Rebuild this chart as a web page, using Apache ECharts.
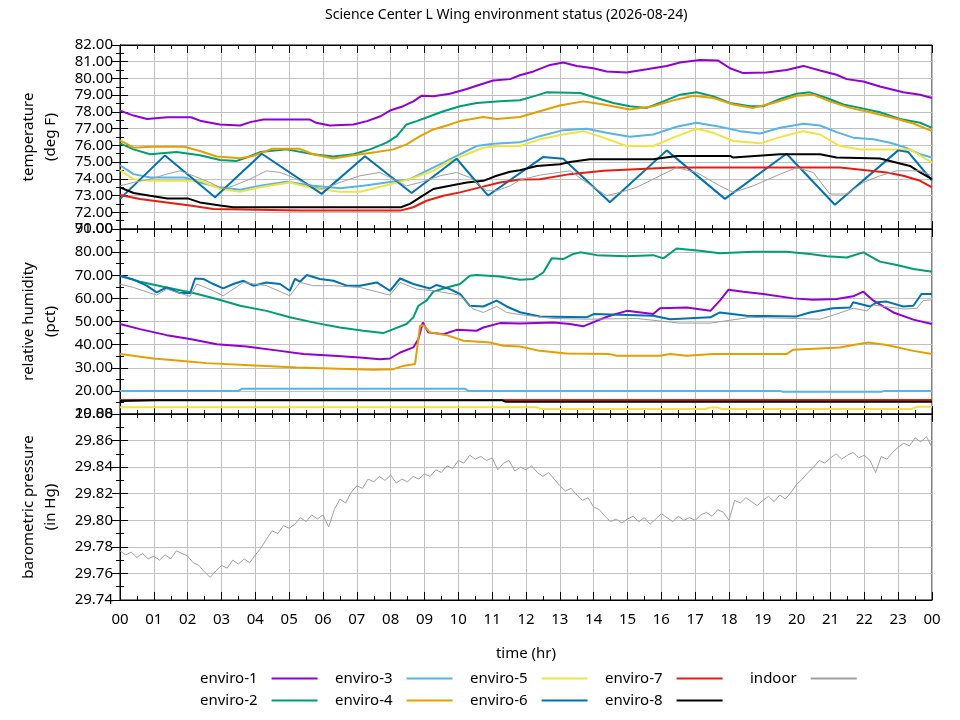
<!DOCTYPE html>
<html>
<head>
<meta charset="utf-8">
<title>Science Center L Wing environment status</title>
<script src="https://cdn.jsdelivr.net/npm/echarts@6/dist/echarts.min.js"></script>
<style>
  html, body { margin: 0; padding: 0; background: #fff; }
  #main { width: 960px; height: 720px; }
</style>
</head>
<body>
<div id="main"></div>
<script>
// series names and colours (gnuplot default palette)
var seriesNames = ['enviro-1', 'enviro-2', 'enviro-3', 'enviro-4', 'enviro-5', 'enviro-6', 'enviro-7', 'enviro-8', 'indoor'];
var seriesColors = ['#9400d3', '#009e73', '#56b4e9', '#e69f00', '#f0e442', '#0072b2', '#e51e10', '#000000', '#a0a0a0'];

// temperature (deg F), [hour, value]
var tempEnviro1 = [[0,78.08],[0.4,77.78],[0.8,77.58],[1.4,77.68],[2.1,77.68],[2.4,77.45],[2.95,77.25],[3.55,77.19],[3.85,77.39],[4.24,77.55],[5.6,77.55],[5.8,77.35],[6.2,77.19],[6.9,77.25],[7.3,77.45],[7.7,77.74],[7.98,78.08],[8.37,78.34],[8.67,78.63],[8.92,78.97],[9.26,78.93],[9.75,79.09],[10.25,79.37],[10.54,79.56],[11.03,79.88],[11.53,79.96],[11.82,80.19],[12.22,80.42],[12.71,80.81],[13.1,80.95],[13.5,80.75],[13.99,80.61],[14.38,80.42],[14.97,80.36],[15.57,80.55],[16.16,80.75],[16.55,80.95],[17.14,81.11],[17.68,81.07],[18.03,80.61],[18.42,80.32],[19.11,80.36],[19.7,80.51],[20.2,80.75],[20.69,80.48],[21.18,80.22],[21.48,79.96],[21.97,79.82],[22.46,79.52],[23.15,79.17],[23.65,79.03],[24,78.83]];
var tempEnviro2 = [[0,76.12],[0.4,75.76],[0.89,75.47],[1.67,75.6],[2.36,75.41],[2.96,75.13],[3.45,75.07],[3.74,75.27],[4.14,75.6],[4.93,75.76],[5.71,75.47],[6.3,75.33],[6.9,75.47],[7.39,75.76],[7.88,76.16],[8.18,76.55],[8.47,77.25],[8.77,77.45],[9.16,77.74],[9.56,78.04],[10.05,78.34],[10.54,78.53],[11.23,78.63],[11.82,78.7],[12.22,78.93],[12.61,79.17],[13.6,79.13],[14.09,78.83],[14.58,78.53],[15.07,78.34],[15.57,78.24],[16.06,78.63],[16.55,79.03],[17.04,79.17],[17.54,78.93],[18.03,78.53],[18.62,78.34],[19.01,78.34],[19.51,78.77],[20.0,79.09],[20.39,79.17],[20.89,78.83],[21.38,78.44],[21.87,78.24],[22.46,77.98],[23.05,77.58],[23.65,77.35],[24,77.05]];
var tempEnviro3 = [[0,74.81],[0.4,74.28],[0.9,74.08],[1.9,74.08],[2.36,73.78],[2.96,73.49],[3.55,73.35],[4.14,73.58],[4.93,73.82],[5.71,73.58],[6.5,73.43],[7.19,73.58],[7.88,73.78],[8.57,73.98],[9.06,74.48],[9.56,74.97],[10.05,75.47],[10.54,75.96],[11.03,76.1],[11.82,76.18],[12.41,76.55],[13.1,76.91],[13.79,76.99],[14.38,76.75],[15.07,76.51],[15.76,76.65],[16.45,77.11],[17.04,77.35],[17.73,77.11],[18.32,76.85],[18.92,76.71],[19.51,77.05],[20.2,77.29],[20.69,77.19],[21.18,76.79],[21.67,76.46],[22.27,76.36],[22.76,76.16],[23.15,75.92],[23.65,75.47],[24,75.27]];
var tempEnviro4 = [[0,76.3],[0.4,75.86],[0.9,75.92],[1.9,75.92],[2.36,75.66],[2.86,75.33],[3.55,75.23],[3.94,75.37],[4.5,75.8],[5.3,75.8],[5.71,75.47],[6.3,75.21],[6.9,75.41],[7.59,75.6],[8.08,75.76],[8.47,76.06],[8.87,76.55],[9.26,76.95],[9.66,77.19],[10.05,77.45],[10.74,77.7],[11.13,77.58],[11.82,77.7],[12.41,78.04],[13.0,78.38],[13.69,78.63],[14.29,78.44],[15.07,78.14],[15.76,78.34],[16.35,78.69],[16.95,78.97],[17.54,78.83],[18.13,78.44],[18.72,78.24],[19.31,78.53],[20.0,78.97],[20.49,79.03],[20.98,78.63],[21.58,78.24],[22.17,77.98],[22.86,77.64],[23.45,77.31],[24,76.85]];
var tempEnviro5 = [[0,74.53],[0.4,73.98],[0.9,73.88],[2.4,73.88],[2.96,73.39],[3.55,73.23],[4.14,73.49],[5.02,73.78],[5.71,73.43],[6.5,73.23],[7.1,73.23],[7.88,73.62],[8.57,73.98],[9.26,74.48],[9.75,75.07],[10.25,75.47],[10.74,75.86],[11.23,75.96],[11.82,75.96],[12.41,76.36],[13.1,76.65],[13.69,76.85],[14.29,76.46],[14.97,75.96],[15.76,75.96],[16.35,76.46],[17.04,76.99],[17.54,76.75],[18.13,76.26],[18.92,76.12],[19.61,76.55],[20.2,76.85],[20.69,76.65],[21.28,75.96],[21.87,75.76],[23.35,75.76],[24,74.97]];
var tempEnviro6 = [[0,72.8],[1.33,75.4],[2.81,72.9],[4.19,75.5],[5.96,73.1],[7.24,75.35],[8.62,73.15],[9.95,75.2],[10.88,73.0],[12.5,75.3],[13.1,75.2],[14.48,72.6],[16.16,75.7],[17.88,72.8],[19.7,75.5],[21.13,72.45],[23.0,75.7],[23.3,75.6],[24,73.9]];
var tempEnviro7 = [[0,73.03],[0.59,72.79],[1.38,72.59],[2.07,72.4],[2.76,72.2],[5.32,72.1],[8.28,72.1],[8.67,72.3],[9.06,72.69],[9.56,72.99],[10.05,73.19],[10.64,73.49],[11.23,73.78],[11.82,73.96],[12.41,73.98],[13.3,74.28],[14.29,74.48],[16.35,74.67],[21.28,74.67],[22.66,74.38],[23.15,74.18],[23.65,73.88],[24,73.49]];
var tempEnviro8 = [[0,73.49],[0.4,73.15],[0.89,72.99],[1.4,72.83],[2.0,72.83],[2.36,72.59],[2.96,72.4],[3.35,72.3],[8.3,72.3],[8.57,72.5],[8.87,72.89],[9.26,73.39],[9.75,73.58],[10.25,73.78],[10.74,73.88],[11.13,74.18],[11.53,74.42],[11.82,74.51],[12.32,74.77],[13.0,74.87],[13.3,75.01],[13.89,75.17],[15.76,75.17],[16.45,75.37],[18.03,75.37],[18.13,75.27],[19.51,75.47],[20.69,75.47],[21.18,75.27],[22.46,75.21],[22.76,75.07],[23.35,74.77],[23.65,74.38],[24,73.98]];
var tempIndoor = [[0,73.58],[0.4,73.78],[0.89,73.98],[1.38,74.28],[1.77,74.48],[2.17,74.18],[2.66,73.78],[3.05,73.39],[3.35,73.58],[3.84,73.98],[4.33,74.48],[4.73,74.38],[5.12,74.08],[5.62,73.58],[6.0,73.39],[6.5,73.78],[7.09,74.18],[7.68,74.38],[8.08,73.98],[8.47,73.58],[8.87,73.78],[9.46,74.18],[9.95,74.38],[10.34,74.08],[10.84,73.29],[11.13,73.29],[11.53,73.58],[11.82,73.93],[12.41,74.22],[13.3,74.48],[13.79,73.78],[14.38,72.99],[14.78,73.19],[15.27,73.49],[15.96,74.18],[16.45,74.67],[17.04,74.38],[17.73,73.58],[18.13,73.19],[18.72,73.58],[19.51,74.28],[20.0,74.67],[20.49,74.38],[20.98,73.09],[21.48,73.09],[21.97,73.78],[22.46,74.18],[22.96,74.48],[23.65,74.48],[24,74.18]];

// relative humidity (pct), [hour, value]
var humEnviro1 = [[0,48.9],[0.59,46.7],[1.38,44.1],[2.07,42.4],[2.86,40.2],[3.74,39.2],[4.73,37.3],[5.42,35.9],[6.31,35.2],[7.09,34.4],[7.68,33.7],[7.98,34.0],[8.28,36.6],[8.67,38.8],[8.82,42.4],[8.95,49.6],[9.11,45.3],[9.56,44.5],[9.95,46.4],[10.54,46.0],[10.74,47.4],[11.23,49.3],[11.82,49.1],[12.81,49.6],[13.3,48.9],[13.69,47.9],[14.09,50.3],[14.48,52.5],[14.98,54.6],[15.76,53.2],[15.96,55.7],[16.75,56.1],[17.45,54.6],[17.73,59.0],[17.98,63.7],[18.42,62.9],[19.01,61.9],[19.9,60.0],[20.49,59.4],[21.18,59.7],[21.67,60.9],[21.97,62.9],[22.27,59.0],[22.86,53.9],[23.45,50.8],[24,48.9]];
var humEnviro2 = [[0,69.8],[0.59,67.2],[1.38,64.7],[2.17,62.3],[2.86,59.7],[3.55,56.8],[4.33,54.6],[5.02,51.8],[5.81,49.3],[6.5,47.4],[7.19,46.0],[7.78,45.0],[8.08,46.7],[8.47,48.9],[8.67,51.8],[8.82,56.8],[9.06,59.0],[9.26,62.9],[9.66,64.7],[10.05,66.2],[10.34,69.8],[10.54,70.1],[11.23,69.5],[11.82,68.1],[12.22,68.4],[12.51,71.2],[12.76,77.3],[13.1,77.0],[13.4,79.2],[13.6,79.9],[14.09,78.7],[14.98,78.2],[15.76,78.7],[16.06,77.3],[16.45,81.6],[17.14,80.6],[17.73,79.5],[18.72,80.2],[19.7,80.2],[20.39,79.2],[20.89,78.2],[21.48,77.7],[21.97,79.9],[22.46,75.9],[22.96,74.4],[23.45,72.7],[24,71.5]];
var humEnviro3 = [[0,20.0],[3.5,20.0],[3.6,20.9],[10.2,20.9],[10.3,20.0],[19.5,20.0],[19.6,19.6],[22.5,19.6],[22.6,20.0],[24,20.0]];
var humEnviro4 = [[0,35.9],[0.99,34.0],[1.77,33.0],[2.56,32.0],[3.84,31.1],[5.22,30.1],[7.49,29.1],[8.08,29.4],[8.37,30.8],[8.72,31.6],[8.87,48.2],[8.97,48.4],[9.16,45.3],[9.66,44.1],[10.15,41.7],[10.94,40.9],[11.33,39.5],[11.82,39.2],[12.41,37.3],[13.2,36.2],[14.48,35.9],[14.68,35.2],[15.96,35.2],[16.26,35.9],[16.75,35.2],[17.54,35.9],[19.7,35.9],[19.9,37.8],[21.28,38.8],[21.67,39.8],[22.12,40.9],[22.66,39.8],[23.45,37.3],[24,35.9]];
var humEnviro5 = [[0,12.9],[12.3,12.9],[12.45,12.2],[17.3,12.2],[17.45,12.8],[17.65,12.8],[17.8,12.2],[23.4,12.2],[23.55,13.1],[24,13.1]];
var humEnviro6 = [[0,69.8],[0.4,68.1],[0.79,65.5],[1.08,62.6],[1.38,64.7],[1.77,62.3],[2.07,62.3],[2.22,68.6],[2.46,68.4],[2.76,66.2],[3.05,64.3],[3.35,66.2],[3.65,67.6],[3.94,65.5],[4.33,66.9],[4.73,66.2],[5.02,63.3],[5.17,68.4],[5.32,67.2],[5.52,70.1],[5.91,68.4],[6.31,67.6],[6.7,65.5],[7.09,65.5],[7.59,66.9],[7.98,63.3],[8.28,68.6],[8.67,66.2],[9.16,64.3],[9.36,65.8],[9.75,64.0],[10.05,61.9],[10.34,56.8],[10.74,56.5],[11.13,59.0],[11.43,56.5],[11.82,54.0],[12.41,52.2],[13.79,51.8],[14.0,53.2],[15.76,52.5],[16.26,51.0],[17.45,51.8],[17.73,53.9],[18.52,52.5],[20.0,52.2],[20.39,53.9],[21.08,55.7],[21.58,56.1],[21.67,58.3],[22.17,56.5],[22.36,58.3],[22.66,58.6],[23.15,56.5],[23.45,56.8],[23.69,61.9],[24,61.9]];
var humEnviro7 = [[0,16.1],[24,16.1]];
var humEnviro8 = [[0,15.6],[1.1,15.9],[11.3,15.9],[11.4,15.3],[24,15.3]];
var humIndoor = [[0,66.2],[0.4,64.7],[1.08,61.4],[1.38,64.0],[2.07,60.9],[2.27,66.2],[2.76,63.3],[3.05,61.1],[3.65,66.9],[4.33,65.5],[5.02,61.1],[5.32,66.9],[5.71,65.5],[6.31,65.5],[7.09,64.7],[7.98,61.4],[8.28,66.9],[8.77,64.0],[9.26,63.3],[10.05,61.4],[10.44,55.4],[10.74,53.9],[11.13,56.5],[11.43,53.9],[11.82,53.0],[12.81,51.3],[13.79,51.0],[15.27,51.3],[16.55,49.3],[17.45,49.3],[18.62,51.8],[20.69,51.0],[21.18,53.2],[21.67,55.7],[22.07,54.6],[22.27,57.1],[23.15,55.4],[23.55,55.7],[23.74,59.0],[24,59.4]];

// barometric pressure (in Hg), indoor only, one reading every 10 minutes from 00:00
var pressureStepHr = 1 / 6;
var pressureValues = [
  29.777, 29.774, 29.776, 29.772, 29.775, 29.771,
  29.773, 29.770, 29.774, 29.771, 29.777, 29.775,
  29.773, 29.768, 29.766, 29.761, 29.757, 29.762,
  29.766, 29.764, 29.770, 29.767, 29.771, 29.768,
  29.774, 29.779, 29.786, 29.792, 29.790, 29.796,
  29.794, 29.797, 29.802, 29.799, 29.804, 29.801,
  29.804, 29.795, 29.808, 29.816, 29.813, 29.821,
  29.826, 29.824, 29.831, 29.829, 29.833, 29.830,
  29.834, 29.828, 29.831, 29.829, 29.833, 29.831,
  29.835, 29.833, 29.838, 29.836, 29.841, 29.839,
  29.845, 29.843, 29.849, 29.846, 29.848, 29.845,
  29.847, 29.838, 29.843, 29.845, 29.837, 29.840,
  29.838, 29.841, 29.836, 29.833, 29.836, 29.831,
  29.826, 29.822, 29.824, 29.819, 29.815, 29.817,
  29.810, 29.808, 29.803, 29.799, 29.801, 29.798,
  29.801, 29.803, 29.799, 29.802, 29.797, 29.801,
  29.805, 29.802, 29.799, 29.803, 29.800, 29.802,
  29.800, 29.804, 29.806, 29.803, 29.808, 29.806,
  29.800, 29.815, 29.813, 29.817, 29.814, 29.811,
  29.815, 29.818, 29.814, 29.819, 29.816, 29.821,
  29.827, 29.831, 29.836, 29.840, 29.845, 29.843,
  29.847, 29.850, 29.846, 29.849, 29.851, 29.847,
  29.849, 29.845, 29.836, 29.848, 29.846, 29.851,
  29.855, 29.858, 29.856, 29.862, 29.859, 29.863,
  29.855
];

var tempData = [tempEnviro1, tempEnviro2, tempEnviro3, tempEnviro4, tempEnviro5, tempEnviro6, tempEnviro7, tempEnviro8, tempIndoor];
var humData = [humEnviro1, humEnviro2, humEnviro3, humEnviro4, humEnviro5, humEnviro6, humEnviro7, humEnviro8, humIndoor];
var pressureData = pressureValues.map(function (v, i) { return [i * pressureStepHr, v]; });

var FONT = 'Noto Sans';
var gridColor = '#c0c0c0';

var grids = [
    {left: 120, width: 812, top: 45, height: 184},
    {left: 120, width: 812, top: 229, height: 185},
    {left: 120, width: 812, top: 414, height: 186}
];
grids.forEach(function (g) {
    g.show = true;
    g.borderColor = '#000';
    g.borderWidth = 1;
    g.backgroundColor = 'transparent';
});

function hourLabel(v) {
    var h = Math.round(v) % 24;
    return (h < 10 ? '0' : '') + h;
}

function makeX(gridIndex, position, showLabels) {
    return {
        type: 'value', gridIndex: gridIndex, position: position,
        min: 0, max: 24, interval: 1,
        axisLine: {show: true, onZero: false, lineStyle: {color: '#000', width: 1}},
        axisTick: {show: true, inside: true, length: 8, lineStyle: {color: '#000'}},
        minorTick: {show: true, splitNumber: 2, length: 4, lineStyle: {color: '#000'}},
        splitLine: {show: position === 'bottom', lineStyle: {color: gridColor, width: 1}},
        axisLabel: {show: showLabels, formatter: hourLabel, fontSize: 15, color: '#000', margin: 12, fontFamily: FONT},
        name: showLabels ? 'time (hr)' : '',
        nameLocation: 'middle', nameGap: 46,
        nameTextStyle: {fontSize: 15, color: '#000', fontFamily: FONT}
    };
}

function makeY(gridIndex, position, min, max, interval, name) {
    var left = position === 'left';
    return {
        type: 'value', gridIndex: gridIndex, position: position,
        min: min, max: max, interval: interval,
        axisLine: {show: true, lineStyle: {color: '#000', width: 1}},
        axisTick: {show: true, inside: true, length: 8, lineStyle: {color: '#000'}},
        minorTick: {show: true, splitNumber: 2, length: 4, lineStyle: {color: '#000'}},
        splitLine: {show: left, lineStyle: {color: gridColor, width: 1}},
        axisLabel: {
            show: left, fontSize: 15, color: '#000', margin: 7, fontFamily: FONT,
            showMinLabel: true, showMaxLabel: true,
            formatter: function (v) { return v.toFixed(2); }
        },
        name: left ? name : '',
        nameLocation: 'middle', nameGap: 58, nameRotate: 90,
        nameTextStyle: {fontSize: 15, color: '#000', fontFamily: FONT, lineHeight: 22, align: 'center'}
    };
}

var xAxes = [
    makeX(0, 'bottom', false), makeX(0, 'top', false),
    makeX(1, 'bottom', false), makeX(1, 'top', false),
    makeX(2, 'bottom', true), makeX(2, 'top', false)
];
var yAxes = [
    makeY(0, 'left', 71, 82, 1, 'temperature\n(deg F)'), makeY(0, 'right', 71, 82, 1, ''),
    makeY(1, 'left', 10, 90, 10, 'relative humidity\n(pct)'), makeY(1, 'right', 10, 90, 10, ''),
    makeY(2, 'left', 29.74, 29.88, 0.02, 'barometric pressure\n(in Hg)'), makeY(2, 'right', 29.74, 29.88, 0.02, '')
];

function lineSeries(name, color, data, axisIndex) {
    var thin = name === 'indoor';
    return {
        name: name, type: 'line', data: data,
        xAxisIndex: axisIndex, yAxisIndex: axisIndex,
        symbol: 'none', showSymbol: false, animation: false,
        color: color,
        lineStyle: {color: color, width: thin ? 1 : 2},
        emphasis: {disabled: true}
    };
}

var series = [];
seriesNames.forEach(function (n, i) {
    series.push(lineSeries(n, seriesColors[i], tempData[i], 0));
});
seriesNames.forEach(function (n, i) {
    series.push(lineSeries(n, seriesColors[i], humData[i], 2));
});
series.push(lineSeries('indoor', seriesColors[8], pressureData, 4));

// legend laid out column by column, label left of the line sample
var legendCols = [
    {left: 195, data: ['enviro-1', 'enviro-2']},
    {left: 330, data: ['enviro-3', 'enviro-4']},
    {left: 465, data: ['enviro-5', 'enviro-6']},
    {left: 600, data: ['enviro-7', 'enviro-8']},
    {left: 745, data: ['indoor']}
];
var legends = legendCols.map(function (c) {
    return {
        left: c.left, top: 666, orient: 'vertical', align: 'right',
        itemWidth: 46, itemHeight: 14, itemGap: 7,
        selectedMode: false,
        itemStyle: {opacity: 0},
        textStyle: {fontSize: 15, color: '#000', fontFamily: FONT, padding: [0, 9, 0, 0]},
        data: c.data
    };
});

var chart = echarts.init(document.getElementById('main'));
chart.setOption({
    animation: false,
    backgroundColor: '#fff',
    textStyle: {fontFamily: FONT},
    title: {
        text: 'Science Center L Wing environment status (2026-08-24)',
        left: 320, top: 3,
        textStyle: {fontSize: 14, fontWeight: 'normal', color: '#000', fontFamily: FONT}
    },
    legend: legends,
    grid: grids,
    xAxis: xAxes,
    yAxis: yAxes,
    series: series
});
</script>
</body>
</html>
